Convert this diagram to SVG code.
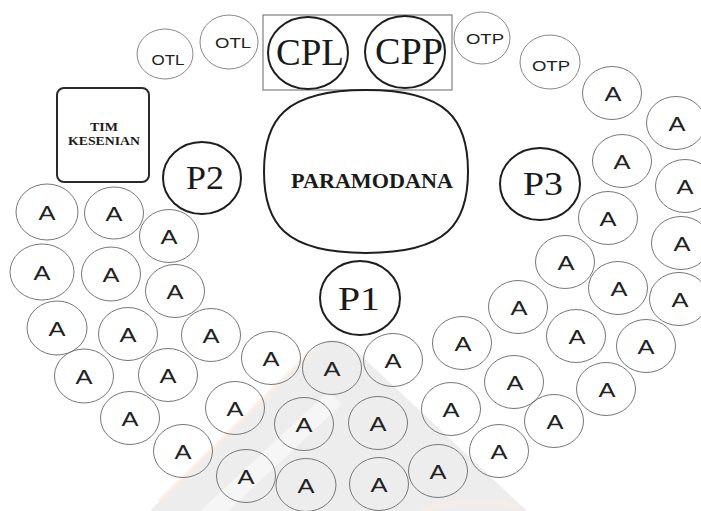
<svg xmlns="http://www.w3.org/2000/svg" width="701" height="511" viewBox="0 0 701 511">
<style>
.bg{fill:#ffffff}
.wm{fill:#ededed}
.wm2{fill:#f6f6f6}
.wm3{fill:none;stroke:#f7ece4;stroke-width:6}
.a ellipse{fill:none;stroke:#777;stroke-width:1}
.a text{font-family:"Liberation Sans",Arial,sans-serif;font-size:21px;fill:#222;text-anchor:middle}
.o ellipse{fill:none;stroke:#888;stroke-width:1}
.o text{font-family:"Liberation Sans",Arial,sans-serif;font-size:15px;fill:#222;text-anchor:middle}
.b ellipse,.b path{fill:none;stroke:#1e1e1e;stroke-width:2}
.b text{font-family:"Liberation Serif","Times New Roman",serif;font-size:34px;fill:#1a1a1a;text-anchor:middle}
.b text.big{font-size:38px}
.b text.pm{font-size:22px;font-weight:bold}
.frame{fill:none;stroke:#808080;stroke-width:1.2}
.tim rect{fill:none;stroke:#2a2a2a;stroke-width:2}
.tim text{font-family:"Liberation Serif","Times New Roman",serif;font-size:13px;font-weight:bold;fill:#1a1a1a;text-anchor:middle}
</style>
<rect class="bg" x="0" y="0" width="701" height="511"/>
<g id="watermark">
<path class="wm" d="M150,511 L314,349 Q334,331 354,349 L527,511 Z"/>
<path class="wm2" d="M200,511 L328,392 L342,404 L228,511 Z"/>
<path class="wm3" d="M160,502 L312,352" opacity="0.7"/>
<path class="wm3" d="M420,511 Q480,492 520,508" opacity="0.7"/>
</g>
<rect id="cp-frame" class="frame" x="263" y="15" width="189" height="75"/>
<g id="tim-kesenian" class="tim">
<rect x="57" y="88" width="92" height="94" rx="7"/>
<text x="104" y="131" textLength="28" lengthAdjust="spacingAndGlyphs">TIM</text>
<text x="104" y="145" textLength="72" lengthAdjust="spacingAndGlyphs">KESENIAN</text>
</g>
<g id="paramodana" class="b">
<path d="M366,90 C448,90 468,120 468,171.5 C468,223 448,253 366,253 C284,253 264,223 264,171.5 C264,120 284,90 366,90 Z"/>
<text class="pm" x="372" y="188" textLength="162" lengthAdjust="spacingAndGlyphs">PARAMODANA</text>
</g>
<g id="cpl" class="b"><ellipse cx="308" cy="53" rx="40" ry="36"/><text class="big" x="310" y="65" textLength="68" lengthAdjust="spacingAndGlyphs">CPL</text></g>
<g id="cpp" class="b"><ellipse cx="405" cy="52" rx="40" ry="36"/><text class="big" x="409" y="64" textLength="68" lengthAdjust="spacingAndGlyphs">CPP</text></g>
<g id="p1" class="b"><ellipse cx="360" cy="298" rx="40" ry="37"/><text x="359" y="310" textLength="42" lengthAdjust="spacingAndGlyphs">P1</text></g>
<g id="p2" class="b"><ellipse cx="202" cy="178" rx="39" ry="36"/><text x="205" y="189" textLength="38" lengthAdjust="spacingAndGlyphs">P2</text></g>
<g id="p3" class="b"><ellipse cx="540" cy="184" rx="40" ry="36"/><text x="543" y="195" textLength="40" lengthAdjust="spacingAndGlyphs">P3</text></g>
<g id="otl1" class="o"><ellipse cx="165" cy="54" rx="28" ry="25"/><text x="168" y="65" textLength="33" lengthAdjust="spacingAndGlyphs">OTL</text></g>
<g id="otl2" class="o"><ellipse cx="229" cy="42" rx="29" ry="27"/><text x="233" y="48" textLength="36" lengthAdjust="spacingAndGlyphs">OTL</text></g>
<g id="otp1" class="o"><ellipse cx="482" cy="38" rx="28" ry="26"/><text x="485" y="44" textLength="38" lengthAdjust="spacingAndGlyphs">OTP</text></g>
<g id="otp2" class="o"><ellipse cx="550" cy="62" rx="30" ry="27"/><text x="551" y="71" textLength="38" lengthAdjust="spacingAndGlyphs">OTP</text></g>
<g id="a1" class="a"><ellipse cx="47" cy="212" rx="31" ry="28"/><text x="47" y="220" textLength="17" lengthAdjust="spacingAndGlyphs">A</text></g>
<g id="a2" class="a"><ellipse cx="114" cy="213" rx="29.5" ry="26"/><text x="114" y="221" textLength="17" lengthAdjust="spacingAndGlyphs">A</text></g>
<g id="a3" class="a"><ellipse cx="169" cy="236" rx="29.5" ry="26.5"/><text x="169" y="244" textLength="17" lengthAdjust="spacingAndGlyphs">A</text></g>
<g id="a4" class="a"><ellipse cx="42" cy="272" rx="32" ry="28"/><text x="42" y="280" textLength="17" lengthAdjust="spacingAndGlyphs">A</text></g>
<g id="a5" class="a"><ellipse cx="111" cy="274" rx="29.5" ry="27"/><text x="111" y="282" textLength="17" lengthAdjust="spacingAndGlyphs">A</text></g>
<g id="a6" class="a"><ellipse cx="175" cy="291" rx="29.5" ry="26.5"/><text x="175" y="299" textLength="17" lengthAdjust="spacingAndGlyphs">A</text></g>
<g id="a7" class="a"><ellipse cx="57" cy="328" rx="30" ry="27"/><text x="57" y="336" textLength="17" lengthAdjust="spacingAndGlyphs">A</text></g>
<g id="a8" class="a"><ellipse cx="128" cy="334" rx="29.5" ry="26.5"/><text x="128" y="342" textLength="17" lengthAdjust="spacingAndGlyphs">A</text></g>
<g id="a9" class="a"><ellipse cx="211" cy="335" rx="29.5" ry="26.5"/><text x="211" y="343" textLength="17" lengthAdjust="spacingAndGlyphs">A</text></g>
<g id="a10" class="a"><ellipse cx="84" cy="376" rx="29.5" ry="27"/><text x="84" y="384" textLength="17" lengthAdjust="spacingAndGlyphs">A</text></g>
<g id="a11" class="a"><ellipse cx="168" cy="375" rx="29.5" ry="26.5"/><text x="168" y="383" textLength="17" lengthAdjust="spacingAndGlyphs">A</text></g>
<g id="a12" class="a"><ellipse cx="130" cy="418" rx="29.5" ry="26.5"/><text x="130" y="426" textLength="17" lengthAdjust="spacingAndGlyphs">A</text></g>
<g id="a13" class="a"><ellipse cx="271" cy="358" rx="29.5" ry="26.5"/><text x="271" y="366" textLength="17" lengthAdjust="spacingAndGlyphs">A</text></g>
<g id="a14" class="a"><ellipse cx="332" cy="368" rx="29.5" ry="26.5"/><text x="332" y="376" textLength="17" lengthAdjust="spacingAndGlyphs">A</text></g>
<g id="a15" class="a"><ellipse cx="393" cy="360" rx="29.5" ry="26.5"/><text x="393" y="368" textLength="17" lengthAdjust="spacingAndGlyphs">A</text></g>
<g id="a16" class="a"><ellipse cx="235" cy="408" rx="29.5" ry="26.5"/><text x="235" y="416" textLength="17" lengthAdjust="spacingAndGlyphs">A</text></g>
<g id="a17" class="a"><ellipse cx="304" cy="424" rx="29.5" ry="26.5"/><text x="304" y="432" textLength="17" lengthAdjust="spacingAndGlyphs">A</text></g>
<g id="a18" class="a"><ellipse cx="378" cy="423" rx="29.5" ry="26.5"/><text x="378" y="431" textLength="17" lengthAdjust="spacingAndGlyphs">A</text></g>
<g id="a19" class="a"><ellipse cx="451" cy="409" rx="29.5" ry="26.5"/><text x="451" y="417" textLength="17" lengthAdjust="spacingAndGlyphs">A</text></g>
<g id="a20" class="a"><ellipse cx="183" cy="451" rx="29.5" ry="26.5"/><text x="183" y="459" textLength="17" lengthAdjust="spacingAndGlyphs">A</text></g>
<g id="a21" class="a"><ellipse cx="246" cy="476" rx="29.5" ry="26.5"/><text x="246" y="484" textLength="17" lengthAdjust="spacingAndGlyphs">A</text></g>
<g id="a22" class="a"><ellipse cx="306" cy="485" rx="30" ry="26.5"/><text x="306" y="493" textLength="17" lengthAdjust="spacingAndGlyphs">A</text></g>
<g id="a23" class="a"><ellipse cx="379" cy="484" rx="29.5" ry="26.5"/><text x="379" y="492" textLength="17" lengthAdjust="spacingAndGlyphs">A</text></g>
<g id="a24" class="a"><ellipse cx="438" cy="471" rx="29.5" ry="26.5"/><text x="438" y="479" textLength="17" lengthAdjust="spacingAndGlyphs">A</text></g>
<g id="a25" class="a"><ellipse cx="499" cy="451" rx="29.5" ry="26.5"/><text x="499" y="459" textLength="17" lengthAdjust="spacingAndGlyphs">A</text></g>
<g id="a26" class="a"><ellipse cx="612" cy="93" rx="29.5" ry="26.5"/><text x="613" y="101" textLength="17" lengthAdjust="spacingAndGlyphs">A</text></g>
<g id="a27" class="a"><ellipse cx="676" cy="123" rx="29.5" ry="26.5"/><text x="677" y="131" textLength="17" lengthAdjust="spacingAndGlyphs">A</text></g>
<g id="a28" class="a"><ellipse cx="622" cy="161" rx="29.5" ry="26.5"/><text x="622" y="169" textLength="17" lengthAdjust="spacingAndGlyphs">A</text></g>
<g id="a29" class="a"><ellipse cx="685" cy="186" rx="29.5" ry="26.5"/><text x="685" y="194" textLength="17" lengthAdjust="spacingAndGlyphs">A</text></g>
<g id="a30" class="a"><ellipse cx="608" cy="218" rx="29.5" ry="26.5"/><text x="608" y="226" textLength="17" lengthAdjust="spacingAndGlyphs">A</text></g>
<g id="a31" class="a"><ellipse cx="681" cy="243" rx="29.5" ry="26.5"/><text x="682" y="251" textLength="17" lengthAdjust="spacingAndGlyphs">A</text></g>
<g id="a32" class="a"><ellipse cx="565" cy="262" rx="29.5" ry="26.5"/><text x="566" y="270" textLength="17" lengthAdjust="spacingAndGlyphs">A</text></g>
<g id="a33" class="a"><ellipse cx="618" cy="288" rx="29.5" ry="26.5"/><text x="619" y="296" textLength="17" lengthAdjust="spacingAndGlyphs">A</text></g>
<g id="a34" class="a"><ellipse cx="679" cy="299" rx="29.5" ry="26.5"/><text x="680" y="307" textLength="17" lengthAdjust="spacingAndGlyphs">A</text></g>
<g id="a35" class="a"><ellipse cx="518" cy="307" rx="29.5" ry="26.5"/><text x="519" y="315" textLength="17" lengthAdjust="spacingAndGlyphs">A</text></g>
<g id="a36" class="a"><ellipse cx="576" cy="336" rx="29.5" ry="26.5"/><text x="577" y="344" textLength="17" lengthAdjust="spacingAndGlyphs">A</text></g>
<g id="a37" class="a"><ellipse cx="646" cy="346" rx="29.5" ry="26.5"/><text x="646" y="354" textLength="17" lengthAdjust="spacingAndGlyphs">A</text></g>
<g id="a38" class="a"><ellipse cx="462" cy="343" rx="29.5" ry="26.5"/><text x="463" y="351" textLength="17" lengthAdjust="spacingAndGlyphs">A</text></g>
<g id="a39" class="a"><ellipse cx="514" cy="382" rx="29.5" ry="26.5"/><text x="515" y="390" textLength="17" lengthAdjust="spacingAndGlyphs">A</text></g>
<g id="a40" class="a"><ellipse cx="606" cy="389" rx="29.5" ry="26.5"/><text x="607" y="397" textLength="17" lengthAdjust="spacingAndGlyphs">A</text></g>
<g id="a41" class="a"><ellipse cx="554" cy="421" rx="29.5" ry="26.5"/><text x="555" y="429" textLength="17" lengthAdjust="spacingAndGlyphs">A</text></g>
</svg>
